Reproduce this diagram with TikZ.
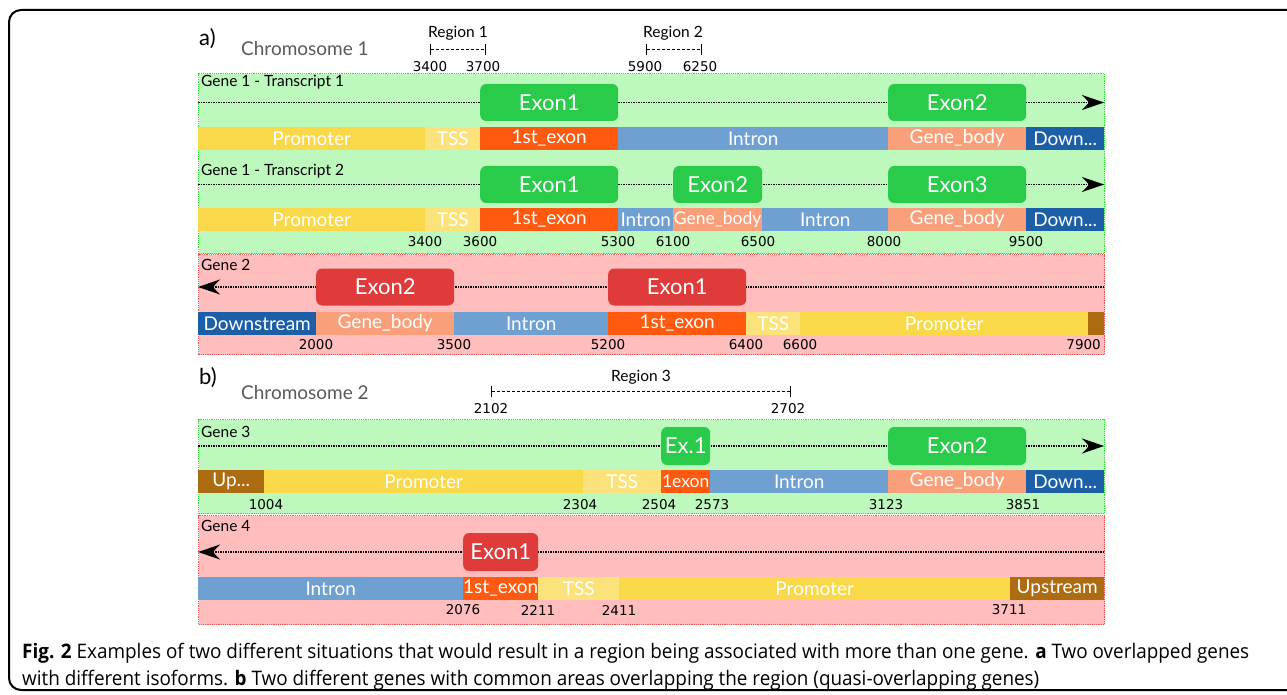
\documentclass[tikz,border=0pt]{standalone}
\usepackage{fontspec}
\setmainfont{Lato}
\newfontfamily\numfont{DejaVu Sans}
\newfontfamily\capfont[FakeStretch=0.945]{Open Sans}
\usetikzlibrary{arrows.meta, positioning}
\definecolor{greenFill}{HTML}{BDF8BD}
\definecolor{greenLine}{HTML}{33DD33}
\definecolor{pinkFill}{HTML}{FFBDBD}
\definecolor{pinkLine}{HTML}{EE5555}
\definecolor{exonGreen}{HTML}{2ACB4B}
\definecolor{exonRed}{HTML}{E03B3B}
\definecolor{cPro}{HTML}{F9D84A}
\definecolor{cTss}{HTML}{FBE27A}
\definecolor{cFirst}{HTML}{FF5A0F}
\definecolor{cInt}{HTML}{6FA0D2}
\definecolor{cBody}{HTML}{F9A07B}
\definecolor{cDown}{HTML}{1C5FA7}
\definecolor{cUp}{HTML}{AD6B12}
\colorlet{chromColor}{black!65}
\tikzstyle{geneGreen}=[rectangle, anchor=north west, inner sep=0pt, fill=greenFill,
draw=greenLine, densely dotted, line width=1.2pt]
\tikzstyle{genePink}=[rectangle, anchor=north west, inner sep=0pt, fill=pinkFill,
draw=pinkLine, densely dotted, line width=1.2pt]
\tikzstyle{geneLab}=[anchor=west, inner sep=0pt, font=\fontsize{15.5}{17}\selectfont]
\tikzstyle{exonG}=[rectangle, rounded corners=6pt, anchor=west, inner sep=0pt,
minimum height=37pt, fill=exonGreen, text=white, font=\fontsize{22}{26}\selectfont]
\tikzstyle{exonR}=[exonG, fill=exonRed]
\tikzstyle{seg}=[rectangle, anchor=west, inner sep=0pt, minimum height=23pt,
text=white, font=\fontsize{19}{21}\selectfont]
\tikzstyle{segTight}=[seg, font=\fontsize{17.5}{21}\selectfont]
\tikzstyle{num}=[inner sep=0pt, font=\numfont\fontsize{13.5}{15}\selectfont]
\tikzstyle{regLab}=[inner sep=0pt, font=\fontsize{15.5}{17}\selectfont]
\tikzstyle{region}=[line width=1pt, dash pattern=on 3pt off 2pt,
{Bar[width=11pt]}-{Bar[width=11pt]}]
\tikzstyle{chrom}=[anchor=west, inner sep=0pt, text=chromColor, font=\fontsize{19}{22}\selectfont]
\tikzstyle{panel}=[anchor=west, inner sep=0pt, font=\fontsize{22}{24}\selectfont]
\tikzstyle{strand}=[densely dotted, line width=1.5pt]
\tikzstyle{fwd}=[strand, -{Stealth[length=22pt, width=15pt]}]
\tikzstyle{capLine}=[anchor=base west, inner sep=0pt, font=\capfont\fontsize{20}{24}\selectfont]

\begin{document}
\begin{tikzpicture}[x=1pt, y=-1pt]
  \useasboundingbox (0,0) rectangle (1287,695);
  \draw [line width=2pt, rounded corners=12pt] (9,10) rectangle (1330,690);

  % panel a
  \node (pa) [panel] at (199,39) {a)};
  \node (chr1) [chrom] at (241,49) {Chromosome 1};
  \node (r1lab) [regLab] at (458,33) {Region 1};
  \coordinate (r1a) at (430,50);
  \coordinate (r1b) at (486,50);
  \draw [region] (r1a) -- (r1b);
  \node (r1na) [num] at (430,67) {3400};
  \node (r1nb) [num] at (483,67) {3700};
  \node (r2lab) [regLab] at (673,33) {Region 2};
  \coordinate (r2a) at (646,50);
  \coordinate (r2b) at (702,50);
  \draw [region] (r2a) -- (r2b);
  \node (r2na) [num] at (645,67) {5900};
  \node (r2nb) [num] at (700,67) {6250};

  % gene 1
  \node (g1) [geneGreen, minimum width=906pt, minimum height=180pt] at (198,73) {};
  \node (t1lab) [geneLab] at (201,82) {Gene 1 - Transcript 1};
  \coordinate (t1s) at (198,102.5);
  \coordinate (t1e) at (1104,102.5);
  \draw [fwd] (t1s) -- (t1e);
  \node (t1exa) [exonG, minimum width=138pt] at (480,102.5) {Exon1};
  \node (t1exb) [exonG, minimum width=138pt] at (888,102.5) {Exon2};
  \node (t1pro) [seg, fill=cPro, minimum width=227pt] at (198,138.5) {Promoter};
  \node (t1tss) [seg, fill=cTss, minimum width=55pt] at (425,138.5) {TSS};
  \node (t1fst) [seg, fill=cFirst, minimum width=138pt] at (480,138.5) {1st\_exon};
  \node (t1int) [seg, fill=cInt, minimum width=270pt] at (618,138.5) {Intron};
  \node (t1body) [seg, fill=cBody, minimum width=138pt] at (888,138.5) {Gene\_body};
  \node (t1down) [seg, fill=cDown, minimum width=78pt] at (1026,138.5) {Down...};

  \node (t2lab) [geneLab] at (201,171) {Gene 1 - Transcript 2};
  \coordinate (t2s) at (198,184.5);
  \coordinate (t2e) at (1104,184.5);
  \draw [fwd] (t2s) -- (t2e);
  \node (t2exa) [exonG, minimum width=138pt] at (480,184.5) {Exon1};
  \node (t2exb) [exonG, minimum width=89pt] at (673,184.5) {Exon2};
  \node (t2exc) [exonG, minimum width=138pt] at (888,184.5) {Exon3};
  \node (t2pro) [seg, fill=cPro, minimum width=227pt] at (198,219.5) {Promoter};
  \node (t2tss) [seg, fill=cTss, minimum width=55pt] at (425,219.5) {TSS};
  \node (t2fst) [seg, fill=cFirst, minimum width=138pt] at (480,219.5) {1st\_exon};
  \node (t2inta) [seg, fill=cInt, minimum width=55pt] at (618,219.5) {Intron};
  \node (t2bodya) [segTight, fill=cBody, minimum width=89pt] at (673,219.5) {Gene\_body};
  \node (t2intb) [seg, fill=cInt, minimum width=126pt] at (762,219.5) {Intron};
  \node (t2bodyb) [seg, fill=cBody, minimum width=138pt] at (888,219.5) {Gene\_body};
  \node (t2down) [seg, fill=cDown, minimum width=78pt] at (1026,219.5) {Down...};
  \node (t2n1) [num] at (425,242) {3400};
  \node (t2n2) [num] at (480,242) {3600};
  \node (t2n3) [num] at (618,242) {5300};
  \node (t2n4) [num] at (673,242) {6100};
  \node (t2n5) [num] at (758,242) {6500};
  \node (t2n6) [num] at (884,242) {8000};
  \node (t2n7) [num] at (1026,242) {9500};

  % gene 2
  \node (g2) [genePink, minimum width=906pt, minimum height=100pt] at (198,254) {};
  \node (g2lab) [geneLab] at (201,265) {Gene 2};
  \coordinate (g2s) at (198,287);
  \coordinate (g2e) at (1104,287);
  \draw [fwd] (g2e) -- (g2s);
  \node (g2exb) [exonR, minimum width=138pt] at (316,287) {Exon2};
  \node (g2exa) [exonR, minimum width=138pt] at (608,287) {Exon1};
  \node (g2down) [seg, fill=cDown, minimum width=118pt] at (198,323.5) {Downstream};
  \node (g2body) [seg, fill=cBody, minimum width=138pt] at (316,323.5) {Gene\_body};
  \node (g2int) [seg, fill=cInt, minimum width=154pt] at (454,323.5) {Intron};
  \node (g2fst) [seg, fill=cFirst, minimum width=138pt] at (608,323.5) {1st\_exon};
  \node (g2tss) [seg, fill=cTss, minimum width=54pt] at (746,323.5) {TSS};
  \node (g2pro) [seg, fill=cPro, minimum width=288pt] at (800,323.5) {Promoter};
  \node (g2up) [seg, fill=cUp, minimum width=16pt] at (1088,323.5) {};
  \node (g2n1) [num] at (316,345) {2000};
  \node (g2n2) [num] at (454,345) {3500};
  \node (g2n3) [num] at (608,345) {5200};
  \node (g2n4) [num] at (746,345) {6400};
  \node (g2n5) [num] at (800,345) {6600};
  \node (g2n6) [num, anchor=east] at (1101,345) {7900};

  % panel b
  \node (pb) [panel] at (199,378) {b)};
  \node (chr2) [chrom] at (241,393) {Chromosome 2};
  \node (r3lab) [regLab] at (641,377) {Region 3};
  \coordinate (r3a) at (491,391);
  \coordinate (r3b) at (791,391);
  \draw [region] (r3a) -- (r3b);
  \node (r3na) [num] at (491,409) {2102};
  \node (r3nb) [num] at (788,409) {2702};

  % gene 3
  \node (g3) [geneGreen, minimum width=906pt, minimum height=94pt] at (198,419) {};
  \node (g3lab) [geneLab] at (201,432) {Gene 3};
  \coordinate (g3s) at (198,446);
  \coordinate (g3e) at (1104,446);
  \draw [fwd] (g3s) -- (g3e);
  \node (g3exa) [exonG, minimum width=49pt, minimum height=38pt] at (661,446) {Ex.1};
  \node (g3exb) [exonG, minimum width=138pt, minimum height=38pt] at (888,446) {Exon2};
  \node (g3up) [seg, fill=cUp, minimum width=66pt] at (198,481.5) {Up...};
  \node (g3pro) [seg, fill=cPro, minimum width=319pt] at (264,481.5) {Promoter};
  \node (g3tss) [seg, fill=cTss, minimum width=78pt] at (583,481.5) {TSS};
  \node (g3fst) [segTight, fill=cFirst, minimum width=49pt] at (661,481.5) {1exon};
  \node (g3int) [seg, fill=cInt, minimum width=178pt] at (710,481.5) {Intron};
  \node (g3body) [seg, fill=cBody, minimum width=138pt] at (888,481.5) {Gene\_body};
  \node (g3down) [seg, fill=cDown, minimum width=78pt] at (1026,481.5) {Down...};
  \node (g3n1) [num] at (266,505) {1004};
  \node (g3n2) [num] at (580,505) {2304};
  \node (g3n3) [num] at (659,505) {2504};
  \node (g3n4) [num] at (712,505) {2573};
  \node (g3n5) [num] at (886,505) {3123};
  \node (g3n6) [num] at (1023,505) {3851};

  % gene 4
  \node (g4) [genePink, minimum width=906pt, minimum height=109pt] at (198,515) {};
  \node (g4lab) [geneLab] at (201,526) {Gene 4};
  \coordinate (g4s) at (198,552);
  \coordinate (g4e) at (1104,552);
  \draw [fwd] (g4e) -- (g4s);
  \node (g4exa) [exonR, minimum width=75pt, minimum height=38pt] at (463,552) {Exon1};
  \node (g4int) [seg, fill=cInt, minimum width=265pt] at (198,588.5) {Intron};
  \node (g4fst) [seg, fill=cFirst, minimum width=75pt] at (463,588.5) {1st\_exon};
  \node (g4tss) [seg, fill=cTss, minimum width=81pt] at (538,588.5) {TSS};
  \node (g4pro) [seg, fill=cPro, minimum width=391pt] at (619,588.5) {Promoter};
  \node (g4up) [seg, fill=cUp, minimum width=94pt] at (1010,588.5) {Upstream};
  \node (g4n1) [num] at (463,610) {2076};
  \node (g4n2) [num] at (538,610) {2211};
  \node (g4n3) [num] at (619,610) {2411};
  \node (g4n4) [num] at (1009,610) {3711};

  % caption
  \node (cap1) [capLine] at (22,658) {\textbf{Fig. 2} Examples of two different situations that would result in a region being associated with more than one gene. \textbf{a} Two overlapped genes};
  \node (cap2) [capLine] at (22,685) {with different isoforms. \textbf{b} Two different genes with common areas overlapping the region (quasi-overlapping genes)};
\end{tikzpicture}
\end{document}
